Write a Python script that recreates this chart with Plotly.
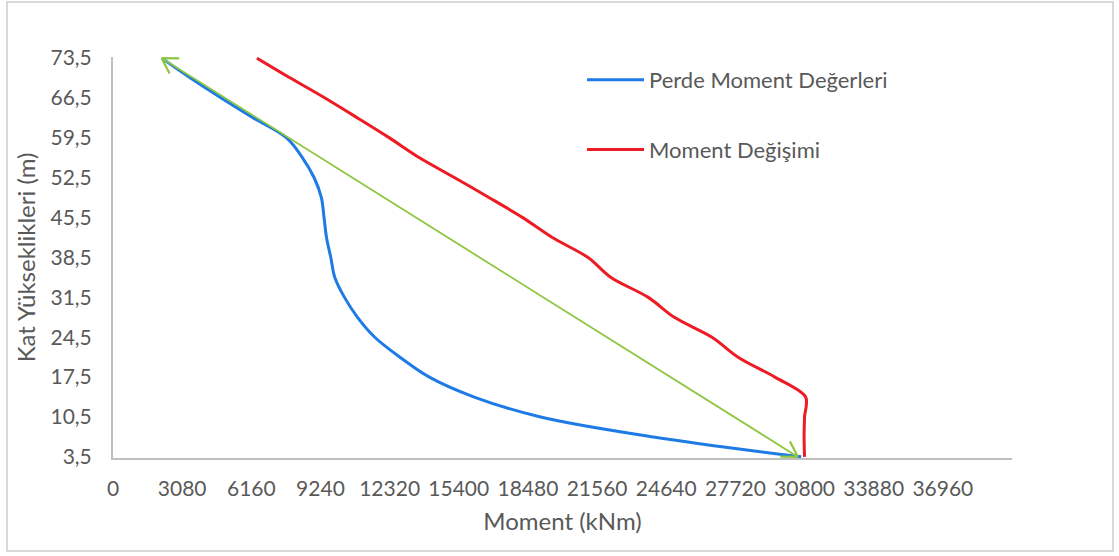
import math
import plotly.graph_objects as go

# ---------------- data ----------------
heights = [3.5, 7, 10.5, 14, 17.5, 21, 24.5, 28, 31.5, 35, 38.5, 42,
           45.5, 49, 52.5, 56, 59.5, 63, 66.5, 70, 73.5]

perde_moment = [30650, 24060, 19040, 16090, 14090, 12780, 11660, 10890,
                10310, 9880, 9700, 9510, 9400, 9280, 8960, 8440, 7730,
                6250, 4820, 3450, 2170]

moment_degisimi = [30800, 30780, 30800, 30850, 29480, 27840, 26680, 25000,
                   23840, 22180, 21160, 19570, 18250, 16760, 15220, 13650,
                   12310, 10890, 9440, 7900, 6410]

arrow_from = (30500, 3.5)
arrow_to = (2170, 73.5)

x_tickvals = [0, 3080, 6160, 9240, 12320, 15400, 18480, 21560, 24640,
              27720, 30800, 33880, 36960]
x_ticktext = ["0", "3080", "6160", "9240", "12320", "15400", "18480",
              "21560", "24640", "27720", "30800", "33880", "36960"]
y_tickvals = [3.5, 10.5, 17.5, 24.5, 31.5, 38.5, 45.5, 52.5, 59.5, 66.5, 73.5]
y_ticktext = ["3,5", "10,5", "17,5", "24,5", "31,5", "38,5", "45,5",
              "52,5", "59,5", "66,5", "73,5"]

series_names = ["Perde Moment Değerleri", "Moment Değişimi"]
x_title = "Moment (kNm)"
y_title = "Kat Yükseklikleri (m)"

# ---------------- layout constants ----------------
W, H = 1119, 556
L, R, T, B = 113, 1119 - 1012, 57, 556 - 458
PW, PH = W - L - R, H - T - B
XR = [0, 40040]
YR = [3.3, 73.7]
FONT = "Lato"
TXT = "#595959"
GREEN = "#8DC63F"


def px_to_paper(px, py):
    return (px - L) / PW, (H - B - py) / PH


fig = go.Figure()
fig.add_trace(go.Scatter(
    x=perde_moment, y=heights, mode="lines", name=series_names[0],
    line=dict(color="#1E7BE6", width=3, shape="spline", smoothing=1.0),
    legendgroup="a"))
fig.add_trace(go.Scatter(
    x=moment_degisimi, y=heights, mode="lines", name=series_names[1],
    line=dict(color="#ED1C24", width=3, shape="spline", smoothing=0.9),
    legendgroup="b"))

# double-headed open arrow (shaft + V-shaped heads)
fig.add_annotation(
    x=arrow_to[0], y=arrow_to[1], ax=arrow_from[0], ay=arrow_from[1],
    xref="x", yref="y", axref="x", ayref="y", text="",
    showarrow=True, arrowhead=0, arrowwidth=1.8, arrowcolor=GREEN)

# pixel direction of the shaft (screen y downwards)
dxp = (arrow_from[0] - arrow_to[0]) / (XR[1] - XR[0]) * PW
dyp = (arrow_to[1] - arrow_from[1]) / (YR[1] - YR[0]) * PH
theta = math.atan2(dyp, dxp)
half = math.radians(31)
arm = 19
for tip, base in ((arrow_to, theta), (arrow_from, theta + math.pi)):
    for s in (-1, 1):
        a = base + s * half
        fig.add_annotation(
            x=tip[0], y=tip[1], xref="x", yref="y",
            ax=arm * math.cos(a), ay=arm * math.sin(a), text="",
            showarrow=True, arrowhead=0, arrowwidth=2.2, arrowcolor=GREEN)

x0, y0 = px_to_paper(7, 551)
x1, y1 = px_to_paper(1113, 2)
fig.add_shape(type="rect", xref="paper", yref="paper", x0=x0, y0=y0,
              x1=x1, y1=y1, line=dict(color="#D9D9D9", width=2),
              layer="below")

lx, ly = px_to_paper(582, 59)
fig.update_layout(
    width=W, height=H,
    margin=dict(l=L, r=R, t=T, b=B, pad=0),
    paper_bgcolor="white", plot_bgcolor="white",
    font=dict(family=FONT, size=21, color=TXT),
    showlegend=True,
    legend=dict(x=lx, y=ly, xanchor="left", yanchor="top",
                bgcolor="rgba(0,0,0,0)", itemwidth=57,
                tracegroupgap=38, font=dict(size=22, color=TXT)),
    xaxis=dict(range=XR, tickvals=x_tickvals, ticktext=x_ticktext,
               showgrid=False, zeroline=False, showline=True,
               linecolor="#BFBFBF", linewidth=2, ticks="", tickangle=0,
               ticklabelstandoff=11,
               tickfont=dict(size=21, color=TXT),
               title=dict(text=x_title, standoff=14,
                          font=dict(size=24, color=TXT))),
    yaxis=dict(range=YR, tickvals=y_tickvals, ticktext=y_ticktext,
               showgrid=False, zeroline=False, showline=True,
               linecolor="#BFBFBF", linewidth=2, ticks="",
               ticklabelstandoff=15,
               tickfont=dict(size=21, color=TXT),
               title=dict(text=y_title, standoff=8,
                          font=dict(size=24, color=TXT))),
)

fig.write_html("out.html",
               config={"displayModeBar": False},
               post_script="document.body.style.margin='0';")
